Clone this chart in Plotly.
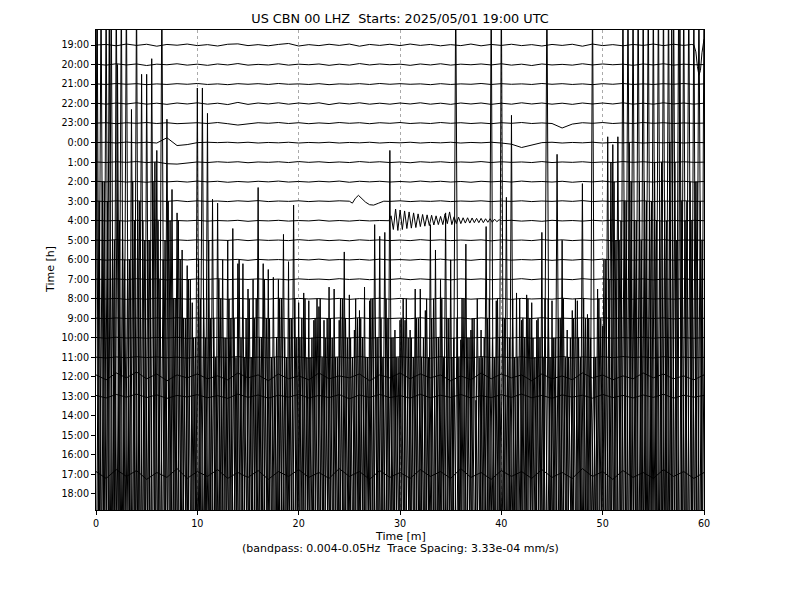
import numpy as np
import plotly.graph_objects as go

# ---------------- labels ----------------
TITLE = "US CBN 00 LHZ  Starts: 2025/05/01 19:00 UTC"
XLABEL = "Time [m]"
SUBLABEL = "(bandpass: 0.004-0.05Hz  Trace Spacing: 3.33e-04 mm/s)"
YLABEL = "Time [h]"
HOUR_LABELS = ["19:00", "20:00", "21:00", "22:00", "23:00", "0:00", "1:00", "2:00",
               "3:00", "4:00", "5:00", "6:00", "7:00", "8:00", "9:00", "10:00",
               "11:00", "12:00", "13:00", "14:00", "15:00", "16:00", "17:00", "18:00"]
X_TICKS = [0, 10, 20, 30, 40, 50, 60]

# ---------------- quiet traces: 1-min samples, hundredths of trace spacing ----------------
T1900 = [0,3,-4,5,-2,4,-6,3,-1,5, -3,2,-5,4,6,-3,2,-4,3,8, -5,2,-3,4,-2,5,-6,3,-2,4,
         -3,5,-2,3,-4,2,-3,5,-4,3, -2,4,-3,2,-5,3,-2,4,-6,5, -3,2,-4,3,-2,5,-3,4,-2,0, 0]
T2000 = [2,-3,4,-2,3,-5,2,-1,4,-3, 2,-4,3,-2,5,-3,1,-2,4,-3, 2,-1,3,-4,2,-3,5,-2,3,-1,
         2,-4,3,-2,4,-3,2,-1,3,-2, 4,-3,2,-5,3,-2,1,-3,4,-2, 3,-1,2,-4,3,-2,4,-3,2,-1, 0]
T2100 = [1,-2,3,-1,2,-3,1,-2,2,-1, 3,-2,1,-3,2,-1,2,-2,3,-1, 1,-2,2,-3,1,-1,2,-2,3,-1,
         2,-1,1,-3,2,-2,1,-1,3,-2, 2,-1,1,-2,3,-1,2,-2,1,-3, 2,-1,3,-2,1,-2,2,-1,3,-2, 1]
T2200 = [2,-3,3,-2,4,-3,2,-4,3,-2, 4,-3,2,-5,6,-4,3,-2,4,-3, 3,-2,4,-5,3,-2,4,-3,2,-3,
         3,-2,4,-3,2,-4,3,-2,3,-4, 2,-3,4,-2,3,-3,2,-4,3,-2, 3,-2,4,-3,2,-3,4,-2,3,-3, 2]
T2300 = [0,2,-3,2,-1,3,-2,2,-3,1, 2,-2,3,-3,-10,-4,2,-1,3,-2, 2,-3,1,-2,3,-1,2,-3,2,-1,
         3,-2,1,-2,3,-1,2,-2,1,-3, 2,-1,3,-2,1,-2,-25,-5,2,-1, 3,-2,1,-2,3,-1,2,-2,1,-1, 0]
T0000 = [0,2,-2,3,-1,2,-2,25,-15,-10, 0,2,0,2,-1,2,-2,1,-1,2, -2,1,-1,2,-2,1,-1,2,-2,1,
         -1,2,-2,1,-1,2,-2,1,-1,2, -2,-8,-25,-12,0,2,-2,1,-1,2, -2,1,-1,2,-2,1,-1,2,-2,1, 0]
T0100 = [1,-2,2,-1,3,-2,1,-8,-10,-4, 1,-2,2,-1,2,-3,1,-1,2,-2, 3,-1,2,-2,1,-2,3,-1,2,-2,
         1,-3,2,-1,2,-2,1,-1,3,-2, 2,-1,1,-2,3,-2,1,-1,2,-2, 1,-2,3,-1,2,-2,1,-1,2,-1, 0]
T0200 = [2,-1,3,-2,1,-3,2,-1,2,-2, 3,-1,2,-3,1,-2,2,-1,3,-2, 1,-2,2,-1,3,-3,2,-1,2,-2,
         1,-2,3,-1,2,-2,1,-3,2,-1, 2,-2,3,-1,1,-2,2,-3,1,-1, 3,-2,2,-1,1,-2,3,-1,2,-2, 1]
T0300 = [1,-2,2,-1,2,-2,1,-1,3,-2, 2,-1,1,-2,2,-1,3,-2,1,-1, 2,-2,1,-1,2,0,0,0,0,-1,
         2,-2,1,-1,2,-2,1,-1,2,-2, 1,-1,2,-2,1,-1,2,-1,3,-2, 1,-2,2,-1,2,-2,1,-1,2,-1, 0]
T0400 = [2,-1,1,-2,2,-1,3,-2,1,-1, 2,-2,1,-1,2,-3,1,-1,2,-2, 1,-1,3,-2,1,-2,2,-1,1,0,
         0,0,0,0,0,0,0,0,0,0, -1,2,-2,1,-3,2,-1,1,-2,2, -1,3,-2,1,-1,2,-2,1,-1,2, 0]
T0500 = [1,-2,3,-1,2,-2,1,-3,2,-1, 2,-2,1,-1,3,-2,2,-1,1,-2, 3,-1,2,-2,1,-3,2,-1,2,-2,
         1,-2,3,-1,2,-2,1,-1,2,-3, 2,-1,1,-2,3,-1,2,-2,1,-1, 2,-3,1,-2,2,-1,3,-2,1,-1, 0]
T0600 = [2,-2,1,-1,3,-2,1,-2,2,-1, 3,-2,1,-1,2,-3,2,-1,1,-2, 2,-1,3,-2,1,-1,2,-2,3,-1,
         1,-2,2,-1,3,-2,1,-3,2,-1, 2,-2,1,-1,2,-3,1,-2,2,-1, 3,-1,2,-2,1,-1,2,-2,1,-2, 1]
T0700 = [1,-1,2,-2,3,-1,2,-3,1,-2, 2,-1,3,-2,1,-1,2,-2,1,-3, 2,-1,1,-2,3,-1,2,-2,1,-1,
         3,-2,2,-1,1,-3,2,-1,2,-2, 1,-1,3,-2,2,-1,1,-2,3,-1, 2,-2,1,-1,2,-3,1,-1,2,-2, 0]
T0800 = [2,-1,2,-3,1,-2,3,-1,2,-2, 1,-1,2,-3,2,-1,1,-2,3,-2, 2,-1,1,-2,2,-3,1,-1,3,-2,
         2,-1,1,-2,3,-1,2,-2,1,-1, 2,-3,2,-1,1,-2,3,-1,2,-2, 1,-1,2,-2,3,-1,1,-2,2,-1, 1]
T0900 = [1,-2,2,-1,1,-3,2,-2,3,-1, 2,-1,1,-2,2,-2,3,-1,1,-2, 2,-3,1,-1,2,-2,3,-1,2,-1,
         1,-2,3,-2,1,-1,2,-3,2,-1, 1,-2,2,-1,3,-2,1,-1,2,-2, 3,-1,1,-2,2,-1,2,-3,1,-1, 0]
T1000 = [2,-2,3,-1,1,-2,2,-1,3,-3, 1,-1,2,-2,1,-2,3,-1,2,-1, 1,-3,2,-2,1,-1,3,-2,2,-1,
         2,-1,1,-2,3,-3,1,-1,2,-2, 2,-1,3,-2,1,-2,2,-1,1,-3, 2,-2,1,-1,3,-2,2,-1,1,-2, 1]
T1100 = [1,-3,2,-2,3,-1,2,-2,1,-4, 3,-2,2,-1,4,-3,1,-2,3,-2, 2,-4,3,-1,2,-3,4,-2,1,-2,
         3,-1,2,-4,3,-2,2,-3,4,-1, 2,-2,3,-4,1,-2,5,-3,2,-1, 3,-2,4,-1,2,-3,3,-2,1,-2, 0]
T1200 = [10,-15,20,-5,25,-10,15,-20,10,-5, 15,-10,5,-15,20,-5,10,-20,15,-10,
         5,-15,20,-10,5,-5,15,-20,10,-5, 20,-10,15,-5,10,-20,5,-15,20,-10,
         15,-5,10,-20,15,-10,5,-15,20,-5, 10,-15,5,-10,20,-5,15,-10,5,-15, 10]
T1300 = [5,-8,10,-4,12,-6,8,-10,5,-3, 9,-7,4,-10,12,-5,7,-9,6,-4, 10,-8,5,-6,9,-12,7,-5,10,-6,
         4,-9,11,-7,6,-5,10,-8,4,-6, 9,-5,12,-7,5,-10,8,-4,6,-9, 10,-6,5,-8,7,-5,11,-9,6,-4, 5]
T1700 = [15,-20,25,-10,20,-25,10,-15,30,-20, 15,-10,25,-20,10,-15,20,-25,15,-10,
         25,-15,10,-20,30,-10,15,-25,20,-15, 10,-20,25,-10,15,-20,30,-15,10,-25,
         20,-10,15,-20,25,-15,10,-20,30,-10, 15,-25,20,-15,10,-20,25,-10,15,-20, 10]

# ---------------- noisy traces (trace spacings) ----------------
# 14:00 and 15:00: 0.25-min samples
T1400 = [-7,20,-8,12,-6,11,-9,9,-7,18, -8,10,-6,8,-9,12,-7,11,-8,10,
         -6,9,-9,12,-7,10,-8,8,-6,11, -9,6,-7,10,-8,5,-6,7,-9,4,
         -7,8,-8,6,-6,9,-9,5,-7,7, -8,4,-6,6,-9,5,-7,8,-8,3,
         -6,6,-9,5,-7,4,-8,7,-6,5, -9,3,-7,6,-8,4,-6,5,-9,6,
         -7,4,-8,6,-6,3,-9,5,-7,6, -8,4,-6,5,-9,3,-7,6,-8,5,
         -6,4,-9,6,-7,5,-8,3,-6,6, -9,4,-7,5,-8,6,-6,4,-9,3,
         -7,5,-8,6,-6,4,-9,5,-7,3, -8,6,-6,5,-9,4,-7,6,-8,5,
         -6,3,-9,5,-7,6,-8,4,-6,5, -9,6,-7,3,-8,5,-6,4,-9,6,
         -7,5,-8,4,-6,6,-9,3,-7,5, -8,6,-6,4,-9,5,-7,3,-8,6,
         -6,4,-9,5,-7,6,-8,3,-6,5, -9,4,-7,6,-8,5,-6,3,-9,6,
         -7,8,-8,7,-6,12,-9,9,-7,11, -8,14,-6,10,-9,12,-7,12,-8,11,
         -6,13,-9,10,-7,11,-8,14,-6,13, -9,20,-7,10,-8,12,-6,12,-9,11, -7]
T1500 = [-6,12,-7,13,-5,22,-8,10,-6,11, -7,9,-5,9,-8,11,-6,12,-7,10,
         -5,10,-8,14,-6,8,-7,10,-5,11, -8,7,-6,9,-7,6,-5,8,-8,5,
         -6,7,-7,5,-5,6,-8,4,-6,7, -7,5,-5,6,-8,4,-6,5,-7,6,
         -5,4,-8,7,-6,5,-7,6,-5,4, -8,5,-6,7,-7,4,-5,6,-8,5,
         -6,6,-7,4,-5,5,-8,7,-6,4, -7,6,-5,5,-8,4,-6,7,-7,5,
         -5,4,-8,6,-6,5,-7,4,-5,7, -8,5,-6,4,-7,6,-5,5,-8,4,
         -6,7,-7,5,-5,4,-8,6,-6,5, -7,4,-5,7,-8,5,-6,4,-7,6,
         -5,5,-8,4,-6,7,-7,5,-5,6, -8,4,-6,5,-7,7,-5,4,-8,5,
         -6,6,-7,5,-5,4,-8,7,-6,5, -7,6,-5,4,-8,5,-6,7,-7,4,
         -5,5,-8,6,-6,4,-7,5,-5,7, -8,4,-6,6,-7,5,-5,4,-8,6,
         -6,9,-7,14,-5,10,-8,11,-6,12, -7,13,-5,11,-8,10,-6,12,-7,12,
         -5,11,-8,14,-6,11,-7,21,-5,10, -8,12,-6,12,-7,11,-5,13,-8,10, -6]
# 16:00 and 18:00: 0.5-min samples
T1600 = [-24,24,-30,24,-27,24,-33,17.7,-22,19.5, -29,20.3,-25,24,-31,13.6,-26,10.5,-33,7.8,
         -23,18.8,-30,13.1,-27,10.0,-32,11.6,-24,9.8, -29,9.0,-26,9.8,-31,9.1,-22,11.3,-28,12.8,
         -25,8.3,-30,6.9,-27,6.9,-33,8.5,-24,10.4, -29,6.4,-26,8.6,-31,11.8,-23,11.4,-28,6.4,
         -25,6.9,-30,8.5,-27,7.4,-32,10.5,-24,12.4, -29,24,-26,10.8,-31,2.8,-22,11.7,-28,7.9,
         -25,13.2,-30,8.3,-27,8.2,-33,6.9,-24,24, -29,15.4,-26,6.4,-31,7.9,-23,7.2,-28,8.5,
         -25,16.3,-30,16.3,-27,24,-32,24,-24,24, -29,24,-26,24,-31,24,-22,24,-28,24, -25]
T1800 = [26,-28,26,-33,26,-25,26,-31,26,-35, 21.5,-27,17.6,-32,19.2,-26,14.4,-30,11.7,-34,
         20.8,-29,19.5,-33,14.9,-25,13.0,-31,11.8,-35, 10.5,-28,15.7,-32,11.5,-26,11.0,-30,11.9,-34,
         9.8,-27,9.9,-33,9.6,-25,10.6,-31,8.9,-35, 10.2,-29,9.4,-32,9.9,-26,13.2,-30,17.6,-34,
         8.9,-28,8.4,-33,10.5,-25,13.8,-31,11.0,-35, 12.0,-27,7.9,-32,8.4,-26,8.4,-30,26,-34,
         26,-29,19.4,-33,8.9,-25,9.8,-31,13.4,-35, 9.9,-28,13.0,-32,9.4,-26,15.9,-30,26,-34,
         8.6,-27,17.9,-33,26,-25,26,-31,26,-35, 26,-29,26,-32,26,-26,26,-30,26,-34, 26]
# sample grid of each noisy trace: start time and step (minutes)
NOISY_START = {"14:00": -0.125, "15:00": 0.0625, "16:00": 0.0, "18:00": 0.0}
NOISY_STEP = {"14:00": 0.25, "15:00": 0.25, "16:00": 0.5, "18:00": 0.5}

# ---------------- local events (minutes, trace spacings) ----------------
EVT_1900_T = [58.8, 59.0, 59.2, 59.35, 59.5, 59.65, 59.8, 60.0]
EVT_1900_V = [0.03, 0.0, -0.35, -1.1, -1.55, -1.3, -0.4, 0.3]
EVT_0300_T = [25.0, 25.3, 25.6, 25.9, 26.2, 26.6, 27.0, 27.4, 27.9, 28.4]
EVT_0300_V = [0.0, -0.1, 0.15, 0.3, 0.15, -0.05, -0.18, -0.2, -0.1, 0.0]
RING_0400_START, RING_0400_END = 28.9, 40.0
RING_0400_V = [0, 0.25, -0.45, 0.6, -0.5, 0.55, -0.45, 0.5, -0.4, 0.45,
               -0.38, 0.4, -0.35, 0.35, -0.3, 0.32, -0.28, 0.3, -0.25, 0.28,
               -0.22, 0.25, -0.2, 0.22, -0.2, 0.35, -0.15, 0.45, -0.2, 0.2,
               -0.15, 0.18, -0.15, 0.15, -0.12, 0.15, -0.12, 0.14, -0.1, 0.12,
               -0.1, 0.12, -0.1, 0.1, -0.08, 0.1, -0.08, 0.08, -0.05, 0.05, 0]

QUIET = {"19:00": T1900, "20:00": T2000, "21:00": T2100, "22:00": T2200, "23:00": T2300,
         "0:00": T0000, "1:00": T0100, "2:00": T0200, "3:00": T0300, "4:00": T0400,
         "5:00": T0500, "6:00": T0600, "7:00": T0700, "8:00": T0800, "9:00": T0900,
         "10:00": T1000, "11:00": T1100, "12:00": T1200, "13:00": T1300, "17:00": T1700}
NOISY = {"14:00": T1400, "15:00": T1500, "16:00": T1600, "18:00": T1800}
EVENTS = {"19:00": (EVT_1900_T, EVT_1900_V),
          "3:00": (EVT_0300_T, EVT_0300_V),
          "4:00": (list(np.linspace(RING_0400_START, RING_0400_END, len(RING_0400_V))), RING_0400_V)}

fig = go.Figure()
for i, lab in enumerate(HOUR_LABELS):
    if lab in NOISY:
        v = np.array(NOISY[lab], dtype=float)
        t = NOISY_START[lab] + NOISY_STEP[lab] * np.arange(len(v))
    else:
        v = np.array(QUIET[lab], dtype=float) / 100.0
        t = np.linspace(0, 60, len(v))
    if lab in EVENTS:
        et, ev = EVENTS[lab]
        et = np.array(et, dtype=float)
        ev = np.array(ev, dtype=float)
        keep = (t < et[0]) | (t > et[-1])
        t = np.concatenate([t[keep], et])
        v = np.concatenate([v[keep], ev])
        order = np.argsort(t, kind="stable")
        t, v = t[order], v[order]
    fig.add_trace(go.Scatter(x=t, y=-i + v, mode="lines",
                             line=dict(color="black", width=1),
                             hoverinfo="skip", showlegend=False))

# The page body adds an 8 px margin; the figure is sized so the plot box lands
# at x 96-704, y 30-510 of the 800x600 window.
W, H = 792, 592
fig.update_layout(
    width=W, height=H,
    margin=dict(l=88, r=96, t=22, b=90, autoexpand=False),
    paper_bgcolor="white", plot_bgcolor="white",
    font=dict(family="DejaVu Sans", color="black"),
    title=dict(text=TITLE, x=0.5, xref="paper", xanchor="center", y=1 - 11 / H,
               yanchor="middle", yref="container", font=dict(size=12.8, color="black")),
    xaxis=dict(range=[0, 60], tickvals=X_TICKS, ticks="outside", ticklen=4,
               tickcolor="black", tickfont=dict(size=9.6), showgrid=True,
               gridcolor="#aaaaaa", griddash="dot", gridwidth=0.6,
               showline=True, mirror=True, linecolor="black", linewidth=1,
               zeroline=False, automargin=False),
    yaxis=dict(range=[-23.82, 0.77], tickvals=[-k for k in range(len(HOUR_LABELS))],
               ticktext=HOUR_LABELS, ticks="outside", ticklen=4, tickcolor="black",
               tickfont=dict(size=9.6), showgrid=False, showline=True, mirror=True,
               linecolor="black", linewidth=1, zeroline=False, automargin=False),
    annotations=[
        dict(text=YLABEL, x=(50 - 96) / 608, y=0.5, xref="paper", yref="paper",
             textangle=-90, showarrow=False, font=dict(size=11), xanchor="center",
             yanchor="middle"),
        dict(text=XLABEL, x=0.5, y=(510 - 536) / 480, xref="paper", yref="paper",
             showarrow=False, font=dict(size=11), xanchor="center", yanchor="middle"),
        dict(text=SUBLABEL, x=0.5, y=(510 - 548) / 480, xref="paper", yref="paper",
             showarrow=False, font=dict(size=11), xanchor="center", yanchor="middle"),
    ],
)

fig.write_html("out.html")
